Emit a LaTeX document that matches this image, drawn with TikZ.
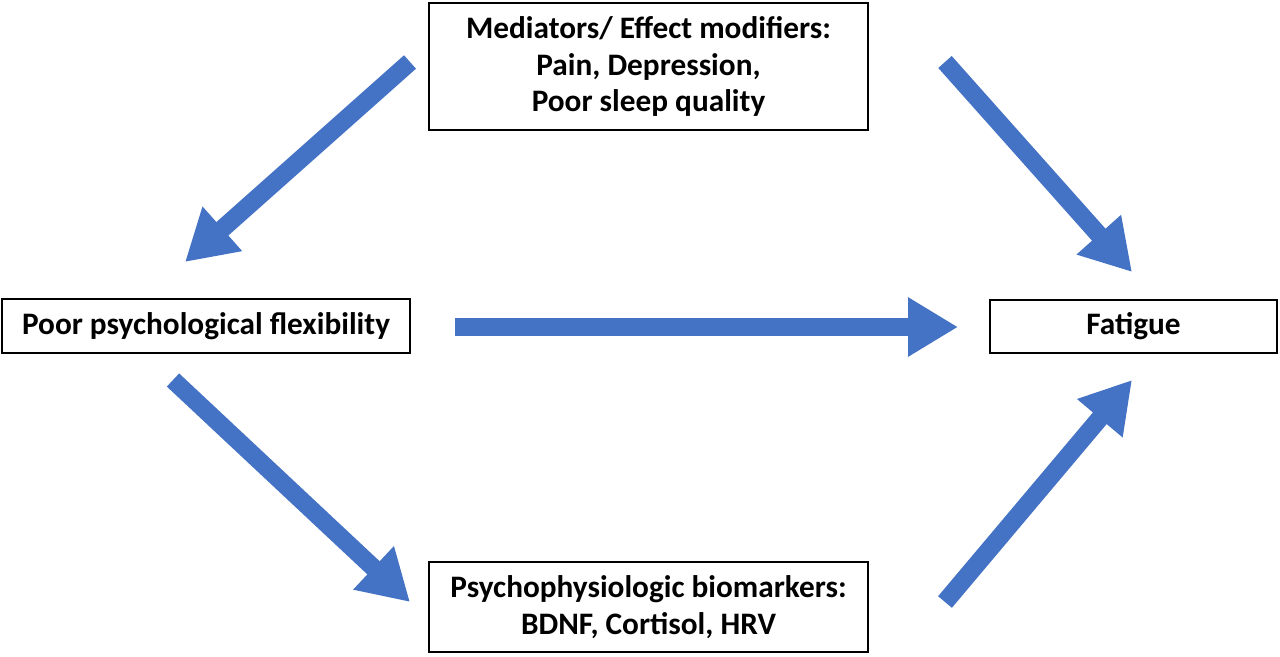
\documentclass[tikz,border=0pt]{standalone}
\usepackage{fontspec}
\setmainfont{Carlito}
\usetikzlibrary{arrows.meta}
\begin{document}
\begin{tikzpicture}[x=0.02cm,y=-0.02cm,
  box/.style={rectangle,draw,line width=0.8pt,align=center,inner sep=0pt,
    font=\fontsize{17.8}{21}\selectfont\bfseries},
  flow/.style={draw={rgb,255:red,68;green,114;blue,196},line width=0.36cm,
    -{Triangle[width=1.12cm,length=1cm,fill={rgb,255:red,68;green,114;blue,196}]}}
]
\useasboundingbox (0,0) rectangle (1280,656);

\node[box,minimum width=439*0.02cm,minimum height=127*0.02cm] (mediators) at (648.5,66.5) {Mediators/ Effect modifiers:\\Pain, Depression,\\Poor sleep quality};
\node[box,minimum width=408*0.02cm,minimum height=54*0.02cm] (flexibility) at (206,326) {Poor psychological flexibility};
\node[box,minimum width=287*0.02cm,minimum height=53*0.02cm] (fatigue) at (1133.5,326.5) {Fatigue};
\node[box,minimum width=439*0.02cm,minimum height=90*0.02cm] (biomarkers) at (648.5,607) {Psychophysiologic biomarkers:\\BDNF, Cortisol, HRV};

\coordinate (tlS) at (410,62);  \coordinate (tlE) at (185,262);
\coordinate (trS) at (945,62);  \coordinate (trE) at (1132,272);
\coordinate (mS) at (455,327);  \coordinate (mE) at (958,327);
\coordinate (blS) at (173,380); \coordinate (blE) at (410,602);
\coordinate (brS) at (945,602); \coordinate (brE) at (1132,380);

\draw[flow] (tlS) -- (tlE);
\draw[flow] (trS) -- (trE);
\draw[flow] (mS) -- (mE);
\draw[flow] (blS) -- (blE);
\draw[flow] (brS) -- (brE);

\end{tikzpicture}
\end{document}
